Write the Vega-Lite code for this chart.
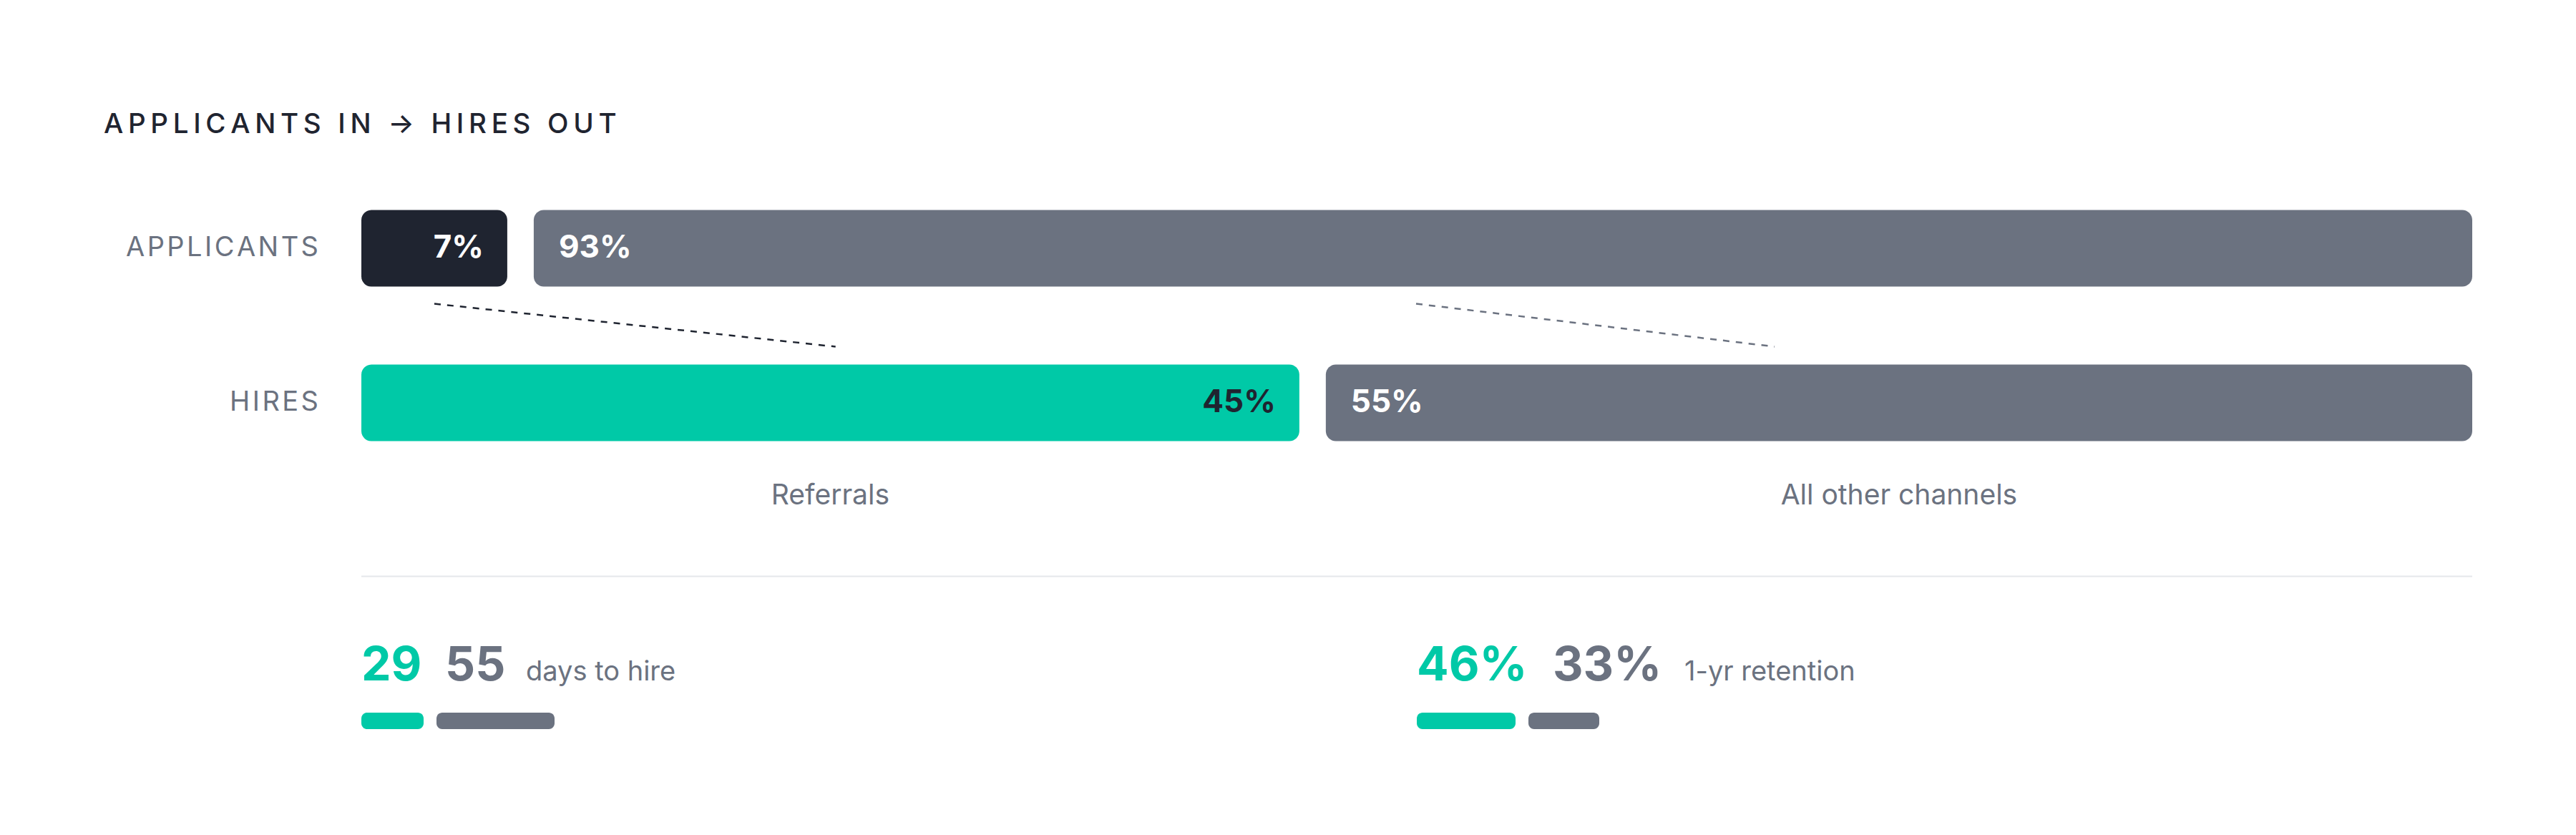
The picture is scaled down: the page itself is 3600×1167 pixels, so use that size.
{
  "$schema": "https://vega.github.io/schema/vega-lite/v6.json",
  "background": "#ffffff",
  "padding": {"left": 145, "top": 154, "right": 5, "bottom": 5},
  "config": {"view": {"stroke": null}, "font": "Inter", "text": {"font": "Inter"}},
  "datasets": {
    "funnel": [
      {"stage": "Applicants", "channel": "Referrals", "share": 7},
      {"stage": "Applicants", "channel": "All other channels", "share": 93},
      {"stage": "Hires", "channel": "Referrals", "share": 45},
      {"stage": "Hires", "channel": "All other channels", "share": 55}
    ],
    "links": [
      {"channel": "Referrals", "from": 3.5, "to": 22.75},
      {"channel": "All other channels", "from": 50.6, "to": 67.8}
    ],
    "stats": [
      {"metric": "days to hire", "channel": "Referrals", "value": 29, "unit": ""},
      {"metric": "days to hire", "channel": "All other channels", "value": 55, "unit": ""},
      {"metric": "1-yr retention", "channel": "Referrals", "value": 46, "unit": "%"},
      {"metric": "1-yr retention", "channel": "All other channels", "value": 33, "unit": "%"}
    ]
  },
  "resolve": {"scale": {"x": "independent", "y": "independent"}},
  "spacing": 90,
  "vconcat": [
    {
      "width": 2950,
      "height": 432,
      "title": {
        "text": "A\u2009P\u2009P\u2009L\u2009I\u2009C\u2009A\u2009N\u2009T\u2009S\u2009 \u2009I\u2009N\u2009 \u2009→\u2009 \u2009H\u2009I\u2009R\u2009E\u2009S\u2009 \u2009O\u2009U\u2009T",
        "anchor": "start",
        "frame": "group",
        "dx": -360,
        "offset": 15,
        "baseline": "alphabetic",
        "font": "Inter",
        "fontSize": 38.5,
        "fontWeight": 500,
        "color": "#1f2430"
      },
      "data": {"name": "funnel"},
      "transform": [
        {"stack": "share", "groupby": ["stage"], "sort": [{"field": "channel", "order": "descending"}], "as": ["x0", "x1"]},
        {"calculate": "datum.share + '%'", "as": "pct"},
        {"calculate": "(datum.x0 + datum.x1) / 2", "as": "mid"},
        {"calculate": "replace(upper(datum.stage), regexp('\\\\B', 'g'), '\u200a')", "as": "rowLabel"}
      ],
      "encoding": {
        "y": {
          "field": "stage",
          "type": "nominal",
          "scale": {"domain": ["Applicants", "Hires"], "paddingInner": 0.5046, "paddingOuter": 0.2523},
          "axis": null
        }
      },
      "layer": [
        {
          "transform": [{"filter": "datum.channel === 'Referrals'"}],
          "mark": {"type": "bar", "cornerRadius": 14},
          "encoding": {
            "x": {"field": "x0", "type": "quantitative", "scale": {"domain": [0, 100], "range": [0, 2913], "nice": false, "zero": false}, "axis": null},
            "x2": {"field": "x1"},
            "color": {"condition": {"test": "datum.stage === 'Hires'", "value": "#00c9a7"}, "value": "#1f2430"}
          }
        },
        {
          "transform": [{"filter": "datum.channel !== 'Referrals'"}],
          "mark": {"type": "bar", "cornerRadius": 14, "xOffset": 37, "x2Offset": 37, "color": "#6b7280"},
          "encoding": {
            "x": {"field": "x0", "type": "quantitative", "axis": null},
            "x2": {"field": "x1"}
          }
        },
        {
          "transform": [{"filter": "datum.channel === 'Referrals'"}],
          "mark": {"type": "text", "align": "right", "baseline": "middle", "dx": -60, "font": "Inter", "fontSize": 38, "fontWeight": 400, "color": "#6b7280"},
          "encoding": {
            "x": {"datum": 0, "type": "quantitative", "axis": null},
            "text": {"field": "rowLabel"}
          }
        },
        {
          "transform": [{"filter": "datum.channel === 'Referrals'"}],
          "mark": {"type": "text", "align": "right", "baseline": "middle", "dx": -33, "font": "Inter", "fontSize": 44, "fontWeight": 700},
          "encoding": {
            "x": {"field": "x1", "type": "quantitative", "axis": null},
            "text": {"field": "pct"},
            "color": {"condition": {"test": "datum.stage === 'Hires'", "value": "#1f2430"}, "value": "#ffffff"}
          }
        },
        {
          "transform": [{"filter": "datum.channel !== 'Referrals'"}],
          "mark": {"type": "text", "align": "left", "baseline": "middle", "dx": 72, "font": "Inter", "fontSize": 44, "fontWeight": 700, "color": "#ffffff"},
          "encoding": {
            "x": {"field": "x0", "type": "quantitative", "axis": null},
            "text": {"field": "pct"}
          }
        },
        {
          "transform": [{"filter": "datum.stage === 'Hires' && datum.channel === 'Referrals'"}],
          "mark": {"type": "text", "align": "center", "baseline": "middle", "dy": 129.5, "font": "Inter", "fontSize": 39, "fontWeight": 400, "color": "#6b7280"},
          "encoding": {
            "x": {"field": "mid", "type": "quantitative", "axis": null},
            "text": {"field": "channel"}
          }
        },
        {
          "transform": [{"filter": "datum.stage === 'Hires' && datum.channel !== 'Referrals'"}],
          "mark": {"type": "text", "align": "center", "baseline": "middle", "dx": 37, "dy": 129.5, "font": "Inter", "fontSize": 39, "fontWeight": 400, "color": "#6b7280"},
          "encoding": {
            "x": {"field": "mid", "type": "quantitative", "axis": null},
            "text": {"field": "channel"}
          }
        },
        {
          "data": {"name": "links"},
          "mark": {"type": "rule", "strokeDash": [9, 9], "strokeWidth": 2.5, "yOffset": 77.5, "y2Offset": 137.5},
          "encoding": {
            "x": {"field": "from", "type": "quantitative", "axis": null},
            "x2": {"field": "to"},
            "y": {"datum": "Applicants", "type": "nominal", "axis": null},
            "y2": {"datum": "Applicants"},
            "color": {"condition": {"test": "datum.channel === 'Referrals'", "value": "#1f2430"}, "value": "#6b7280"}
          }
        },
        {
          "data": {"values": [{}]},
          "mark": {"type": "rule", "strokeWidth": 2, "color": "#e5e7eb", "x2Offset": 37, "yOffset": 242.5},
          "encoding": {
            "x": {"datum": 0, "type": "quantitative", "axis": null},
            "x2": {"datum": 100},
            "y": {"datum": "Hires", "type": "nominal", "axis": null}
          }
        }
      ]
    },
    {
      "data": {"name": "stats"},
      "transform": [
        {"stack": "value", "groupby": ["metric"], "sort": [{"field": "channel", "order": "descending"}], "as": ["s0", "s1"]},
        {"calculate": "datum.value + datum.unit", "as": "figure"}
      ],
      "facet": {
        "column": {"field": "metric", "type": "nominal", "sort": ["days to hire", "1-yr retention"], "header": {"labels": false, "title": null, "labelPadding": 0, "titlePadding": 0}}
      },
      "spacing": 0,
      "spec": {
        "width": 1475,
        "height": 118,
        "layer": [
          {
            "transform": [{"filter": "datum.channel === 'Referrals'"}],
            "mark": {"type": "bar", "cornerRadius": 8, "color": "#00c9a7"},
            "encoding": {
              "x": {"field": "s0", "type": "quantitative", "scale": {"domain": [0, 491.67], "nice": false, "zero": false}, "axis": null},
              "x2": {"field": "s1"},
              "y": {"datum": "bar", "type": "nominal", "scale": {"domain": ["figure", "bar"], "paddingInner": 0.593, "paddingOuter": 0.3407, "align": 1}, "axis": null}
            }
          },
          {
            "transform": [{"filter": "datum.channel !== 'Referrals'"}],
            "mark": {"type": "bar", "cornerRadius": 8, "color": "#6b7280", "xOffset": 18, "x2Offset": 18},
            "encoding": {
              "x": {"field": "s0", "type": "quantitative", "axis": null},
              "x2": {"field": "s1"},
              "y": {"datum": "bar", "type": "nominal", "axis": null}
            }
          },
          {
            "transform": [{"filter": "datum.channel === 'Referrals'"}],
            "mark": {"type": "text", "align": "left", "baseline": "alphabetic", "font": "Inter", "fontSize": 66, "fontWeight": 700, "color": "#00c9a7"},
            "encoding": {
              "x": {"datum": 0, "type": "quantitative", "axis": null},
              "y": {"datum": "figure", "type": "nominal", "axis": null},
              "text": {"field": "figure"}
            }
          },
          {
            "transform": [{"filter": "datum.channel !== 'Referrals'"}],
            "mark": {"type": "text", "align": "left", "baseline": "alphabetic", "font": "Inter", "fontSize": 66, "fontWeight": 700, "color": "#6b7280", "dx": {"expr": "datum.metric === 'days to hire' ? 117 : 190"}},
            "encoding": {
              "x": {"datum": 0, "type": "quantitative", "axis": null},
              "y": {"datum": "figure", "type": "nominal", "axis": null},
              "text": {"field": "figure"}
            }
          },
          {
            "transform": [{"filter": "datum.channel === 'Referrals'"}],
            "mark": {"type": "text", "align": "left", "baseline": "alphabetic", "font": "Inter", "fontSize": 38, "fontWeight": 400, "color": "#6b7280", "dx": {"expr": "datum.metric === 'days to hire' ? 230 : 374"}},
            "encoding": {
              "x": {"datum": 0, "type": "quantitative", "axis": null},
              "y": {"datum": "figure", "type": "nominal", "axis": null},
              "text": {"field": "metric"}
            }
          }
        ]
      }
    }
  ]
}
